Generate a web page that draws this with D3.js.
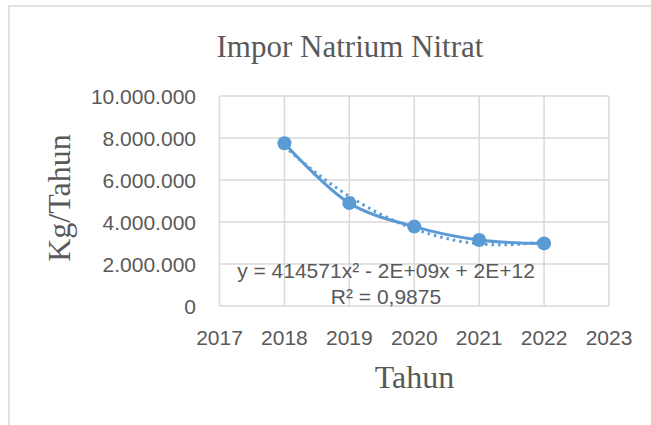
<!DOCTYPE html>
<html>
<head>
<meta charset="utf-8">
<script src="https://cdn.jsdelivr.net/npm/d3@7"></script>
<style>
  html, body { margin: 0; padding: 0; background: #fff; }
  svg { display: block; }
</style>
</head>
<body>
<div id="chart"></div>
<script>
// Impor Natrium Nitrat — smoothed line + quadratic trendline
const years = [2018, 2019, 2020, 2021, 2022];
const imports = [7750000, 4900000, 3780000, 3140000, 2980000];
const xTicks = [2017, 2018, 2019, 2020, 2021, 2022, 2023];
const yTicks = [0, 2000000, 4000000, 6000000, 8000000, 10000000];
const eqLines = ["y = 414571x² - 2E+09x + 2E+12", "R² = 0,9875"];

const W = 651, H = 425;
const BLUE = "#5b9bd5", GRID = "#d9d9d9", TXT = "#595959";
const sans = "'Liberation Sans', Arial, sans-serif";
const serif = "'Liberation Serif', 'Times New Roman', serif";

const svg = d3.select("#chart").append("svg")
  .attr("width", W).attr("height", H);

svg.append("rect")
  .attr("x", 9).attr("y", 6).attr("width", W).attr("height", H)
  .attr("fill", "#fff").attr("stroke", GRID).attr("stroke-width", 1.5);

const x = d3.scaleLinear().domain([2017, 2023]).range([219.5, 609]);
const y = d3.scaleLinear().domain([0, 10000000]).range([306, 96]);

// gridlines
const g = svg.append("g");
g.selectAll("line.h").data(yTicks).join("line")
  .attr("x1", x.range()[0]).attr("x2", x.range()[1])
  .attr("y1", d => y(d)).attr("y2", d => y(d))
  .attr("stroke", GRID).attr("stroke-width", 1.5);
g.selectAll("line.v").data(xTicks).join("line")
  .attr("y1", y.range()[0]).attr("y2", y.range()[1])
  .attr("x1", d => x(d)).attr("x2", d => x(d))
  .attr("stroke", GRID).attr("stroke-width", 1.5);

// tick labels
const fmt = d => d3.format(",")(d).replace(/,/g, ".");
svg.append("g").selectAll("text").data(yTicks).join("text")
  .attr("x", 196).attr("y", d => y(d) + 7.5)
  .attr("text-anchor", "end")
  .attr("font-family", sans).attr("font-size", 21).attr("fill", TXT)
  .text(fmt);
svg.append("g").selectAll("text").data(xTicks).join("text")
  .attr("x", d => x(d)).attr("y", 344.5)
  .attr("text-anchor", "middle")
  .attr("font-family", sans).attr("font-size", 21).attr("fill", TXT)
  .text(d => d);

// quadratic least-squares trendline (centred x)
const x0 = d3.mean(years);
function fitQuad(xs, ys) {
  let s = [0, 0, 0, 0, 0], t = [0, 0, 0];
  xs.forEach((xv, i) => {
    const u = xv - x0;
    for (let k = 0; k <= 4; k++) s[k] += Math.pow(u, k);
    for (let k = 0; k <= 2; k++) t[k] += Math.pow(u, k) * ys[i];
  });
  // solve 3x3 normal equations
  const A = [[s[0], s[1], s[2], t[0]], [s[1], s[2], s[3], t[1]], [s[2], s[3], s[4], t[2]]];
  for (let i = 0; i < 3; i++) {
    for (let j = i + 1; j < 3; j++) {
      const f = A[j][i] / A[i][i];
      for (let k = i; k < 4; k++) A[j][k] -= f * A[i][k];
    }
  }
  const c = [0, 0, 0];
  for (let i = 2; i >= 0; i--) {
    let v = A[i][3];
    for (let k = i + 1; k < 3; k++) v -= A[i][k] * c[k];
    c[i] = v / A[i][i];
  }
  return u => c[0] + c[1] * u + c[2] * u * u;
}
const trend = fitQuad(years, imports);
const trendPts = d3.range(years[0], years[years.length - 1] + 0.001, 0.05);

svg.append("path")
  .datum(trendPts)
  .attr("fill", "none").attr("stroke", BLUE).attr("stroke-width", 3)
  .attr("stroke-dasharray", "2.5,4").attr("stroke-linecap", "butt")
  .attr("d", d3.line().x(d => x(d)).y(d => y(trend(d - x0))));

// smoothed data line
const pts = years.map((yr, i) => [yr, imports[i]]);
svg.append("path")
  .datum(pts)
  .attr("fill", "none").attr("stroke", BLUE).attr("stroke-width", 3)
  .attr("stroke-linecap", "round")
  .attr("d", d3.line().x(d => x(d[0])).y(d => y(d[1])).curve(d3.curveCatmullRom.alpha(0.5)));

svg.append("g").selectAll("circle").data(pts).join("circle")
  .attr("cx", d => x(d[0])).attr("cy", d => y(d[1])).attr("r", 7)
  .attr("fill", BLUE);

// equation label
svg.append("g").selectAll("text").data(eqLines).join("text")
  .attr("x", 386).attr("y", (d, i) => 278 + i * 26)
  .attr("text-anchor", "middle")
  .attr("font-family", sans).attr("font-size", 21).attr("fill", TXT)
  .text(d => d);

// titles
svg.append("text")
  .attr("x", 350).attr("y", 57).attr("text-anchor", "middle")
  .attr("font-family", serif).attr("font-size", 31).attr("fill", TXT)
  .text("Impor Natrium Nitrat");
svg.append("text")
  .attr("x", 414.5).attr("y", 388).attr("text-anchor", "middle")
  .attr("font-family", serif).attr("font-size", 32).attr("fill", TXT)
  .text("Tahun");
svg.append("text")
  .attr("transform", "translate(70,198) rotate(-90)").attr("text-anchor", "middle")
  .attr("font-family", serif).attr("font-size", 32).attr("fill", TXT)
  .text("Kg/Tahun");
</script>
</body>
</html>
